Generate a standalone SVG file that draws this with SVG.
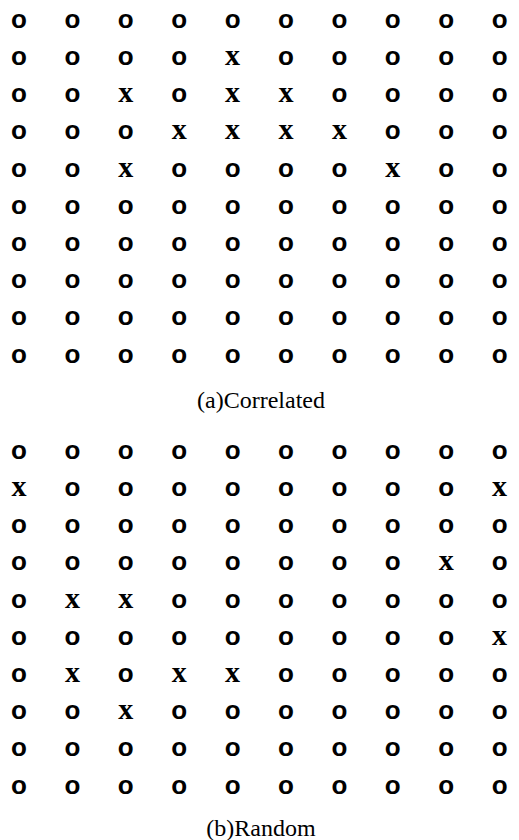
<svg xmlns="http://www.w3.org/2000/svg" width="519" height="840" viewBox="0 0 519 840">
<style>
.c{font-family:"Liberation Sans","Noto Sans",sans-serif;font-weight:bold;font-size:26px;text-anchor:middle;fill:#000}
.x{font-family:"Liberation Serif","DejaVu Serif",serif;font-weight:bold;font-size:30px}
.cap{font-family:"Liberation Serif","DejaVu Serif",serif;font-size:24px;text-anchor:middle;fill:#000}
</style>
<rect width="519" height="840" fill="#fff"/>
<g id="gridA">
<text class="c" y="27.8"><tspan x="19">o</tspan><tspan x="72.4">o</tspan><tspan x="125.8">o</tspan><tspan x="179.2">o</tspan><tspan x="232.6">o</tspan><tspan x="286">o</tspan><tspan x="339.4">o</tspan><tspan x="392.8">o</tspan><tspan x="446.2">o</tspan><tspan x="499.6">o</tspan></text>
<text class="c" y="65"><tspan x="19">o</tspan><tspan x="72.4">o</tspan><tspan x="125.8">o</tspan><tspan x="179.2">o</tspan><tspan class="x" x="232.6">x</tspan><tspan x="286">o</tspan><tspan x="339.4">o</tspan><tspan x="392.8">o</tspan><tspan x="446.2">o</tspan><tspan x="499.6">o</tspan></text>
<text class="c" y="102.2"><tspan x="19">o</tspan><tspan x="72.4">o</tspan><tspan class="x" x="125.8">x</tspan><tspan x="179.2">o</tspan><tspan class="x" x="232.6">x</tspan><tspan class="x" x="286">x</tspan><tspan x="339.4">o</tspan><tspan x="392.8">o</tspan><tspan x="446.2">o</tspan><tspan x="499.6">o</tspan></text>
<text class="c" y="139.4"><tspan x="19">o</tspan><tspan x="72.4">o</tspan><tspan x="125.8">o</tspan><tspan class="x" x="179.2">x</tspan><tspan class="x" x="232.6">x</tspan><tspan class="x" x="286">x</tspan><tspan class="x" x="339.4">x</tspan><tspan x="392.8">o</tspan><tspan x="446.2">o</tspan><tspan x="499.6">o</tspan></text>
<text class="c" y="176.6"><tspan x="19">o</tspan><tspan x="72.4">o</tspan><tspan class="x" x="125.8">x</tspan><tspan x="179.2">o</tspan><tspan x="232.6">o</tspan><tspan x="286">o</tspan><tspan x="339.4">o</tspan><tspan class="x" x="392.8">x</tspan><tspan x="446.2">o</tspan><tspan x="499.6">o</tspan></text>
<text class="c" y="213.8"><tspan x="19">o</tspan><tspan x="72.4">o</tspan><tspan x="125.8">o</tspan><tspan x="179.2">o</tspan><tspan x="232.6">o</tspan><tspan x="286">o</tspan><tspan x="339.4">o</tspan><tspan x="392.8">o</tspan><tspan x="446.2">o</tspan><tspan x="499.6">o</tspan></text>
<text class="c" y="251"><tspan x="19">o</tspan><tspan x="72.4">o</tspan><tspan x="125.8">o</tspan><tspan x="179.2">o</tspan><tspan x="232.6">o</tspan><tspan x="286">o</tspan><tspan x="339.4">o</tspan><tspan x="392.8">o</tspan><tspan x="446.2">o</tspan><tspan x="499.6">o</tspan></text>
<text class="c" y="288.2"><tspan x="19">o</tspan><tspan x="72.4">o</tspan><tspan x="125.8">o</tspan><tspan x="179.2">o</tspan><tspan x="232.6">o</tspan><tspan x="286">o</tspan><tspan x="339.4">o</tspan><tspan x="392.8">o</tspan><tspan x="446.2">o</tspan><tspan x="499.6">o</tspan></text>
<text class="c" y="325.4"><tspan x="19">o</tspan><tspan x="72.4">o</tspan><tspan x="125.8">o</tspan><tspan x="179.2">o</tspan><tspan x="232.6">o</tspan><tspan x="286">o</tspan><tspan x="339.4">o</tspan><tspan x="392.8">o</tspan><tspan x="446.2">o</tspan><tspan x="499.6">o</tspan></text>
<text class="c" y="362.6"><tspan x="19">o</tspan><tspan x="72.4">o</tspan><tspan x="125.8">o</tspan><tspan x="179.2">o</tspan><tspan x="232.6">o</tspan><tspan x="286">o</tspan><tspan x="339.4">o</tspan><tspan x="392.8">o</tspan><tspan x="446.2">o</tspan><tspan x="499.6">o</tspan></text>
</g>
<text id="captionA" class="cap" x="261" y="408">(a)Correlated</text>
<g id="gridB">
<text class="c" y="458.8"><tspan x="19">o</tspan><tspan x="72.4">o</tspan><tspan x="125.8">o</tspan><tspan x="179.2">o</tspan><tspan x="232.6">o</tspan><tspan x="286">o</tspan><tspan x="339.4">o</tspan><tspan x="392.8">o</tspan><tspan x="446.2">o</tspan><tspan x="499.6">o</tspan></text>
<text class="c" y="496"><tspan class="x" x="19">x</tspan><tspan x="72.4">o</tspan><tspan x="125.8">o</tspan><tspan x="179.2">o</tspan><tspan x="232.6">o</tspan><tspan x="286">o</tspan><tspan x="339.4">o</tspan><tspan x="392.8">o</tspan><tspan x="446.2">o</tspan><tspan class="x" x="499.6">x</tspan></text>
<text class="c" y="533.2"><tspan x="19">o</tspan><tspan x="72.4">o</tspan><tspan x="125.8">o</tspan><tspan x="179.2">o</tspan><tspan x="232.6">o</tspan><tspan x="286">o</tspan><tspan x="339.4">o</tspan><tspan x="392.8">o</tspan><tspan x="446.2">o</tspan><tspan x="499.6">o</tspan></text>
<text class="c" y="570.4"><tspan x="19">o</tspan><tspan x="72.4">o</tspan><tspan x="125.8">o</tspan><tspan x="179.2">o</tspan><tspan x="232.6">o</tspan><tspan x="286">o</tspan><tspan x="339.4">o</tspan><tspan x="392.8">o</tspan><tspan class="x" x="446.2">x</tspan><tspan x="499.6">o</tspan></text>
<text class="c" y="607.6"><tspan x="19">o</tspan><tspan class="x" x="72.4">x</tspan><tspan class="x" x="125.8">x</tspan><tspan x="179.2">o</tspan><tspan x="232.6">o</tspan><tspan x="286">o</tspan><tspan x="339.4">o</tspan><tspan x="392.8">o</tspan><tspan x="446.2">o</tspan><tspan x="499.6">o</tspan></text>
<text class="c" y="644.8"><tspan x="19">o</tspan><tspan x="72.4">o</tspan><tspan x="125.8">o</tspan><tspan x="179.2">o</tspan><tspan x="232.6">o</tspan><tspan x="286">o</tspan><tspan x="339.4">o</tspan><tspan x="392.8">o</tspan><tspan x="446.2">o</tspan><tspan class="x" x="499.6">x</tspan></text>
<text class="c" y="682"><tspan x="19">o</tspan><tspan class="x" x="72.4">x</tspan><tspan x="125.8">o</tspan><tspan class="x" x="179.2">x</tspan><tspan class="x" x="232.6">x</tspan><tspan x="286">o</tspan><tspan x="339.4">o</tspan><tspan x="392.8">o</tspan><tspan x="446.2">o</tspan><tspan x="499.6">o</tspan></text>
<text class="c" y="719.2"><tspan x="19">o</tspan><tspan x="72.4">o</tspan><tspan class="x" x="125.8">x</tspan><tspan x="179.2">o</tspan><tspan x="232.6">o</tspan><tspan x="286">o</tspan><tspan x="339.4">o</tspan><tspan x="392.8">o</tspan><tspan x="446.2">o</tspan><tspan x="499.6">o</tspan></text>
<text class="c" y="756.4"><tspan x="19">o</tspan><tspan x="72.4">o</tspan><tspan x="125.8">o</tspan><tspan x="179.2">o</tspan><tspan x="232.6">o</tspan><tspan x="286">o</tspan><tspan x="339.4">o</tspan><tspan x="392.8">o</tspan><tspan x="446.2">o</tspan><tspan x="499.6">o</tspan></text>
<text class="c" y="793.6"><tspan x="19">o</tspan><tspan x="72.4">o</tspan><tspan x="125.8">o</tspan><tspan x="179.2">o</tspan><tspan x="232.6">o</tspan><tspan x="286">o</tspan><tspan x="339.4">o</tspan><tspan x="392.8">o</tspan><tspan x="446.2">o</tspan><tspan x="499.6">o</tspan></text>
</g>
<text id="captionB" class="cap" x="261" y="836">(b)Random</text>
</svg>
